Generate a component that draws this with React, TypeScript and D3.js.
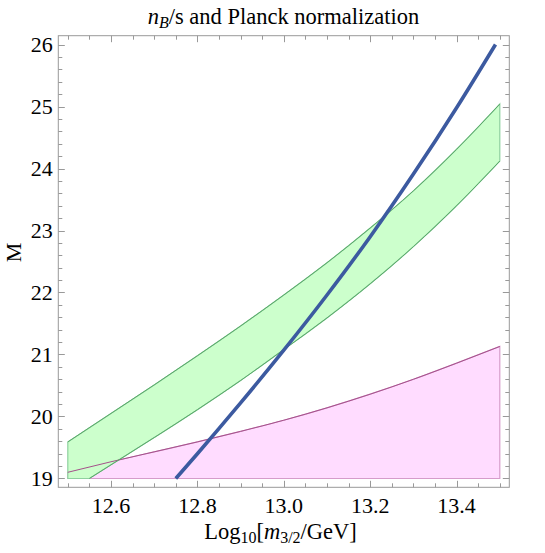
import React, { useRef, useEffect } from 'react';
import * as d3 from 'd3';

// tamanho fixo da figura
const width = 545;
const height = 553;
const font = 'Liberation Serif, DejaVu Serif, serif';

// dados
const bandX = [12.5, 12.6, 12.7, 12.8, 12.9, 13.0, 13.1, 13.2, 13.3, 13.4, 13.5];
const greenUpper = [19.59, 20.05, 20.51, 20.98, 21.46, 21.96, 22.48, 23.04, 23.64, 24.31, 25.04];
const greenLowerX = [12.55, 12.6, 12.7, 12.8, 12.9, 13.0, 13.1, 13.2, 13.3, 13.4, 13.5];
const greenLower = [19.0, 19.22, 19.66, 20.11, 20.58, 21.08, 21.59, 22.14, 22.74, 23.4, 24.12];
const magentaUpper = [19.1, 19.27, 19.43, 19.59, 19.76, 19.94, 20.14, 20.36, 20.6, 20.86, 21.13];
const blueX = [12.75, 12.8, 12.9, 13.0, 13.1, 13.2, 13.3, 13.4, 13.49];
const blueY = [19.0, 19.4, 20.22, 21.07, 21.96, 22.9, 23.91, 24.98, 26.0];
const floorM = 19;

const xTicks = [12.6, 12.8, 13.0, 13.2, 13.4];
const yTicks = [19, 20, 21, 22, 23, 24, 25, 26];

export default function App() {
  const svgRef = useRef<SVGSVGElement | null>(null);

  useEffect(() => {
    if (!svgRef.current) return;
    const svg = d3.select(svgRef.current);
    svg.selectAll('*').remove();

    const x = d3.scaleLinear().domain([12.478, 13.522]).range([58.3, 509.3]);
    const y = d3.scaleLinear().domain([18.858, 26.142]).range([487.3, 35.7]);
    const [x0, x1] = x.range();
    const [y0, y1] = y.range();

    const line = d3.line<[number, number]>()
      .x(d => x(d[0]))
      .y(d => y(d[1]))
      .curve(d3.curveMonotoneX);

    const upperG: [number, number][] = bandX.map((v, i) => [v, greenUpper[i]]);
    const lowerG: [number, number][] = greenLowerX.map((v, i) => [v, greenLower[i]]);
    const upperM: [number, number][] = bandX.map((v, i) => [v, magentaUpper[i]]);
    const blue: [number, number][] = blueX.map((v, i) => [v, blueY[i]]);

    // região magenta
    const mPath = line(upperM) +
      `L${x(bandX[bandX.length - 1])},${y(floorM)}L${x(bandX[0])},${y(floorM)}Z`;
    svg.append('path').attr('d', mPath)
      .attr('fill', '#ffdcff').attr('stroke', '#d69ccb').attr('stroke-width', 1.2);

    // faixa verde
    const lowerRev = lowerG.slice().reverse();
    const gPath = line(upperG) +
      'L' + line(lowerRev)!.slice(1) +
      `L${x(bandX[0])},${y(floorM)}Z`;
    svg.append('path').attr('d', gPath)
      .attr('fill', '#ccffcc').attr('stroke', '#8fd19f').attr('stroke-width', 1.2);

    svg.append('path').attr('d', line(upperM)).attr('fill', 'none')
      .attr('stroke', '#a5508a').attr('stroke-width', 1);
    svg.append('path').attr('d', line(upperG)).attr('fill', 'none')
      .attr('stroke', '#5aa86a').attr('stroke-width', 1);
    svg.append('path').attr('d', line(lowerG)).attr('fill', 'none')
      .attr('stroke', '#5aa86a').attr('stroke-width', 1);

    // curva azul
    svg.append('path').attr('d', line(blue)).attr('fill', 'none')
      .attr('stroke', '#3c5aa0').attr('stroke-width', 3.6);

    // moldura e marcas
    const frame = svg.append('g').attr('stroke', '#999').attr('fill', 'none');
    frame.append('rect').attr('x', x0).attr('y', y1)
      .attr('width', x1 - x0).attr('height', y0 - y1).attr('stroke-width', 1);

    const xMinor = d3.range(0, 21).map(i => 12.5 + i * 0.05);
    const yMinor = d3.range(0, 36).map(i => 19 + i * 0.2);
    const isMajor = (v: number, arr: number[]) => arr.some(t => Math.abs(t - v) < 1e-6);

    xMinor.forEach(v => {
      const len = isMajor(v, xTicks) ? 6.5 : 4;
      const px = Math.round(x(v)) + 0.5;
      frame.append('line').attr('x1', px).attr('x2', px).attr('y1', y0).attr('y2', y0 - len);
      frame.append('line').attr('x1', px).attr('x2', px).attr('y1', y1).attr('y2', y1 + len);
    });
    yMinor.forEach(v => {
      const len = isMajor(v, yTicks) ? 6.5 : 4;
      const py = Math.round(y(v)) + 0.5;
      frame.append('line').attr('x1', x0).attr('x2', x0 + len).attr('y1', py).attr('y2', py);
      frame.append('line').attr('x1', x1).attr('x2', x1 - len).attr('y1', py).attr('y2', py);
    });

    const fmt = d3.format('.1f');
    svg.append('g').selectAll('text').data(xTicks).enter().append('text')
      .attr('x', d => x(d)).attr('y', 512.8)
      .attr('text-anchor', 'middle')
      .attr('font-family', font).attr('font-size', 22)
      .text(d => fmt(d));

    svg.append('g').selectAll('text').data(yTicks).enter().append('text')
      .attr('x', 52.8).attr('y', d => y(d) + 7.3)
      .attr('text-anchor', 'end')
      .attr('font-family', font).attr('font-size', 22)
      .text(d => String(d));

    // título
    const title = svg.append('text')
      .attr('x', 283.5).attr('y', 23.6).attr('text-anchor', 'middle')
      .attr('font-family', font).attr('font-size', 22.5);
    title.append('tspan').attr('font-style', 'italic').text('n');
    title.append('tspan').attr('font-style', 'italic').attr('font-size', 16)
      .attr('dy', 4.5).text('B');
    title.append('tspan').attr('dy', -4.5).text('/s and Planck normalization');

    // rótulo do eixo x
    const xl = svg.append('text')
      .attr('x', 280.5).attr('y', 538.5).attr('text-anchor', 'middle')
      .attr('font-family', font).attr('font-size', 22.5);
    xl.append('tspan').text('Log');
    xl.append('tspan').attr('font-size', 16).attr('dy', 4.5).text('10');
    xl.append('tspan').attr('dy', -4.5).text('[');
    xl.append('tspan').attr('font-style', 'italic').text('m');
    xl.append('tspan').attr('font-size', 16).attr('dy', 4.5).text('3/2');
    xl.append('tspan').attr('dy', -4.5).text('/GeV]');

    // rótulo do eixo y
    svg.append('text')
      .attr('transform', 'translate(20.7,252.5) rotate(-90)')
      .attr('text-anchor', 'middle')
      .attr('font-family', font).attr('font-size', 22)
      .text('M');
  }, []);

  return (
    <svg ref={svgRef} width={width} height={height}
      style={{ position: 'absolute', left: 0, top: 0, background: '#fff' }} />
  );
}
